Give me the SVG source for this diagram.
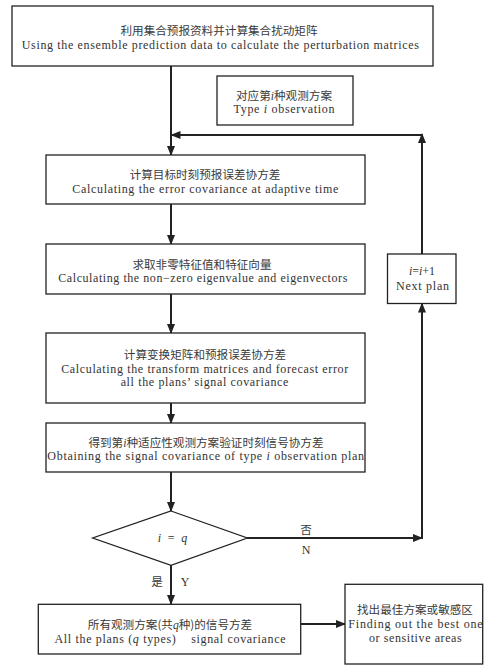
<svg xmlns="http://www.w3.org/2000/svg" width="489" height="668" viewBox="0 0 489 668">
<style>
.box{fill:#fff;stroke:#222;stroke-width:1.3}
.ln{fill:none;stroke:#222;stroke-width:2}
.cn{font-family:"Noto Sans CJK SC","Liberation Serif",serif;font-size:11.6px;fill:#3a3a3a;text-anchor:middle}
.en{font-family:"Liberation Serif","Noto Sans CJK SC",serif;font-size:12px;fill:#333;text-anchor:middle}
.it{font-style:italic}
</style>
<defs>
<marker id="ah" markerUnits="userSpaceOnUse" markerWidth="10" markerHeight="10" viewBox="0 0 10 10" refX="9" refY="5" orient="auto">
<path d="M0,1 L10,5 L0,9 Z" fill="#222"/>
</marker>
</defs>
<rect width="489" height="668" fill="#fff"/>
<g id="connectors">
<line class="ln" x1="171" y1="66" x2="171" y2="155" marker-end="url(#ah)"/>
<line class="ln" x1="422" y1="254" x2="422" y2="134" marker-end="url(#ah)"/>
<line class="ln" x1="422" y1="135" x2="171.5" y2="135" marker-end="url(#ah)"/>
<line class="ln" x1="171" y1="204" x2="171" y2="244" marker-end="url(#ah)"/>
<line class="ln" x1="171" y1="294" x2="171" y2="333" marker-end="url(#ah)"/>
<line class="ln" x1="171" y1="403" x2="171" y2="423" marker-end="url(#ah)"/>
<line class="ln" x1="171" y1="472" x2="171" y2="511" marker-end="url(#ah)"/>
<line class="ln" x1="247" y1="538" x2="422" y2="538" marker-end="url(#ah)"/>
<line class="ln" x1="422" y1="539" x2="422" y2="303.5" marker-end="url(#ah)"/>
<line class="ln" x1="171" y1="565" x2="171" y2="604" marker-end="url(#ah)"/>
<line class="ln" x1="301" y1="624" x2="345" y2="624" marker-end="url(#ah)"/>
<text class="cn" x="306" y="534">否</text>
<text class="en" x="306" y="554">N</text>
<text class="cn" x="157" y="586">是</text>
<text class="en" x="185" y="586">Y</text>
</g>
<g id="n1">
<rect class="box" x="12" y="6" width="421" height="60"/>
<text class="cn" x="219" y="35">利用集合预报资料并计算集合扰动矩阵</text>
<text class="en" x="220.3" y="48.5" textLength="397" lengthAdjust="spacing">Using the ensemble prediction data to calculate the perturbation matrices</text>
</g>
<g id="n_type">
<rect class="box" x="217" y="76" width="136" height="49"/>
<text class="cn" x="284" y="100">对应第<tspan class="it" font-family="Liberation Serif">i</tspan>种观测方案</text>
<text class="en" x="284" y="113" textLength="101" lengthAdjust="spacing">Type <tspan class="it">i</tspan> observation</text>
</g>
<g id="n2">
<rect class="box" x="46" y="155" width="319" height="49"/>
<text class="cn" x="205" y="179">计算目标时刻预报误差协方差</text>
<text class="en" x="205.3" y="193" textLength="266" lengthAdjust="spacing">Calculating the error covariance at adaptive time</text>
</g>
<g id="n3">
<rect class="box" x="46" y="244" width="319" height="50"/>
<text class="cn" x="202" y="268.5">求取非零特征值和特征向量</text>
<text class="en" x="202.8" y="282" textLength="289" lengthAdjust="spacing">Calculating the non−zero eigenvalue and eigenvectors</text>
</g>
<g id="n_next">
<rect class="box" x="387.5" y="254" width="68.5" height="49.5"/>
<text class="en" x="422" y="275"><tspan class="it">i</tspan>=<tspan class="it">i</tspan>+1</text>
<text class="en" x="422.5" y="290" textLength="53" lengthAdjust="spacing">Next plan</text>
</g>
<g id="n4">
<rect class="box" x="46" y="333" width="319" height="70"/>
<text class="cn" x="205" y="358.5">计算变换矩阵和预报误差协方差</text>
<text class="en" x="204.7" y="373" textLength="287" lengthAdjust="spacing">Calculating the transform matrices and forecast error</text>
<text class="en" x="204.5" y="386.3" textLength="167.7" lengthAdjust="spacing">all the plans’ signal covariance</text>
</g>
<g id="n5">
<rect class="box" x="46" y="423" width="319" height="49"/>
<text class="cn" x="206" y="447">得到第<tspan class="it" font-family="Liberation Serif">i</tspan>种适应性观测方案验证时刻信号协方差</text>
<text class="en" x="205.7" y="460" textLength="316.7" lengthAdjust="spacing">Obtaining the signal covariance of type <tspan class="it">i</tspan> observation plan</text>
</g>
<g id="n_dec">
<polygon class="box" points="171,511 247.3,538 171,565.3 92.7,538"/>
<text class="en" x="172.5" y="542" textLength="29.6" lengthAdjust="spacing"><tspan class="it">i</tspan> = <tspan class="it">q</tspan></text>
</g>
<g id="n6">
<rect class="box" x="38.3" y="604.3" width="262.4" height="49.7"/>
<text class="cn" x="170" y="629">所有观测方案(共<tspan class="it" font-family="Liberation Serif">q</tspan>种)的信号方差</text>
<text class="en" x="170" y="643" textLength="231" lengthAdjust="spacing" xml:space="preserve">All the plans (<tspan class="it">q</tspan> types)    signal covariance</text>
</g>
<g id="n7">
<rect class="box" x="345" y="584.3" width="137.7" height="79.7"/>
<text class="cn" x="415" y="614">找出最佳方案或敏感区</text>
<text class="en" x="415.5" y="628" textLength="134.3" lengthAdjust="spacing">Finding out the best one</text>
<text class="en" x="415.3" y="642.3" textLength="92.7" lengthAdjust="spacing">or sensitive areas</text>
</g>
</svg>
